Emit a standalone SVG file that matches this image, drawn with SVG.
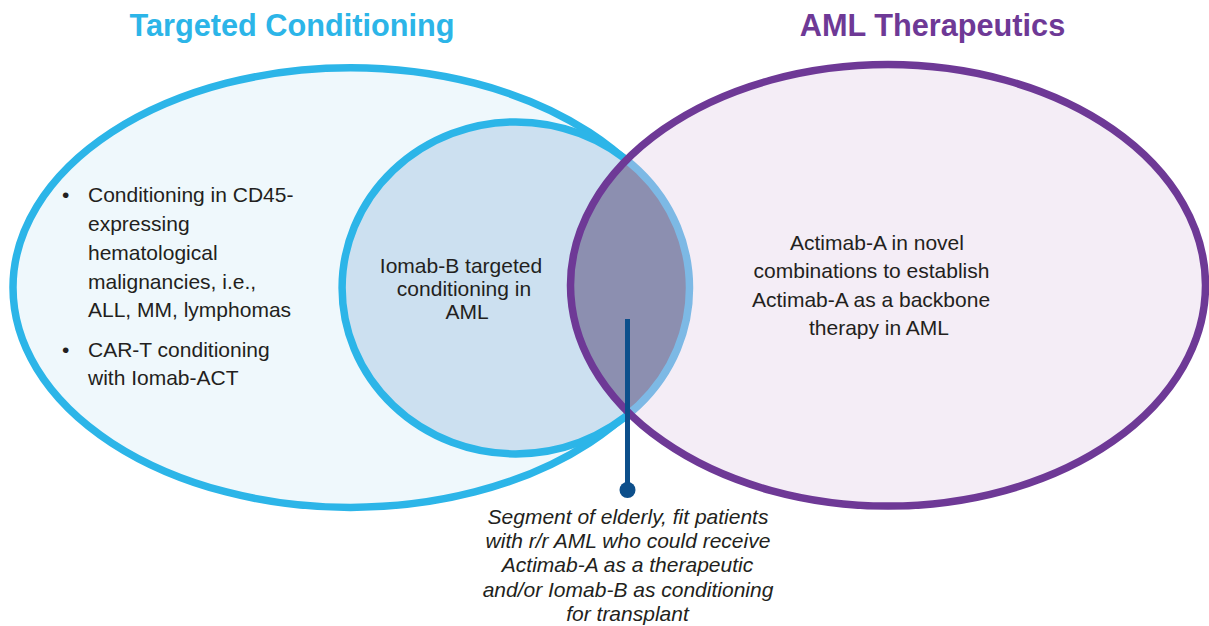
<svg xmlns="http://www.w3.org/2000/svg" width="1209" height="626" viewBox="0 0 1209 626">
<style>
.title{font-family:"Liberation Sans",Arial,sans-serif;font-weight:bold;font-size:30.7px;text-anchor:middle}
.body{font-family:"Liberation Sans",Arial,sans-serif;font-size:21px;fill:#231F20}
.mid{text-anchor:middle}
.it{font-style:italic}
</style>
<defs>
<clipPath id="purpleClip"><ellipse cx="888" cy="285.3" rx="317.5" ry="220.8"/></clipPath>
</defs>
<rect width="1209" height="626" fill="#FFFFFF"/>
<g id="targeted-conditioning">
<ellipse cx="350.5" cy="287.6" rx="337.5" ry="219.8" fill="#EFF8FC" stroke="#2CB5E8" stroke-width="7.5"/>
<text class="title" x="292" y="36" fill="#2CB5E8">Targeted Conditioning</text>
<text class="body" x="62" y="202">•</text>
<text class="body" x="88" y="202">Conditioning in CD45-</text>
<text class="body" x="88" y="231">expressing</text>
<text class="body" x="88" y="260">hematological</text>
<text class="body" x="88" y="288.5">malignancies, i.e.,</text>
<text class="body" x="88" y="317">ALL, MM, lymphomas</text>
<text class="body" x="62" y="357">•</text>
<text class="body" x="88" y="357">CAR-T conditioning</text>
<text class="body" x="88" y="385">with Iomab-ACT</text>
</g>
<g id="iomab-b">
<ellipse cx="515.8" cy="287.9" rx="173.7" ry="166" fill="#CCE0F0" stroke="#2CB5E8" stroke-width="7.5"/>
<text class="body mid" x="461" y="272.5">Iomab-B targeted</text>
<text class="body mid" x="464" y="295.5">conditioning in</text>
<text class="body mid" x="467" y="318.5">AML</text>
</g>
<g id="aml-therapeutics">
<ellipse cx="888" cy="285.3" rx="317.5" ry="220.8" fill="#F4EDF6"/>
</g>
<g id="overlap">
<g clip-path="url(#purpleClip)">
<ellipse cx="515.8" cy="287.9" rx="173.7" ry="166" fill="#8C8FB0" stroke="#7DB9E5" stroke-width="7.5"/>
</g>
</g>
<g id="aml-therapeutics-outline">
<ellipse cx="888" cy="285.3" rx="317.5" ry="220.8" fill="none" stroke="#6E3996" stroke-width="7.5"/>
<text class="title" x="932.5" y="36" fill="#6E3996">AML Therapeutics</text>
<text class="body mid" x="877" y="250">Actimab-A in novel</text>
<text class="body mid" x="871.5" y="278.3">combinations to establish</text>
<text class="body mid" x="871" y="306.7">Actimab-A as a backbone</text>
<text class="body mid" x="879" y="335">therapy in AML</text>
</g>
<g id="connectors">
<line x1="627.5" y1="319" x2="627.5" y2="490" stroke="#0D4F8B" stroke-width="5"/>
<circle cx="627.5" cy="490" r="8" fill="#0D4F8B"/>
</g>
<g id="segment-label">
<text class="body mid it" x="628" y="523.5">Segment of elderly, fit patients</text>
<text class="body mid it" x="628" y="547.5">with r/r AML who could receive</text>
<text class="body mid it" x="627.5" y="572">Actimab-A as a therapeutic</text>
<text class="body mid it" x="628" y="596.5">and/or Iomab-B as conditioning</text>
<text class="body mid it" x="627.5" y="621">for transplant</text>
</g>
</svg>
